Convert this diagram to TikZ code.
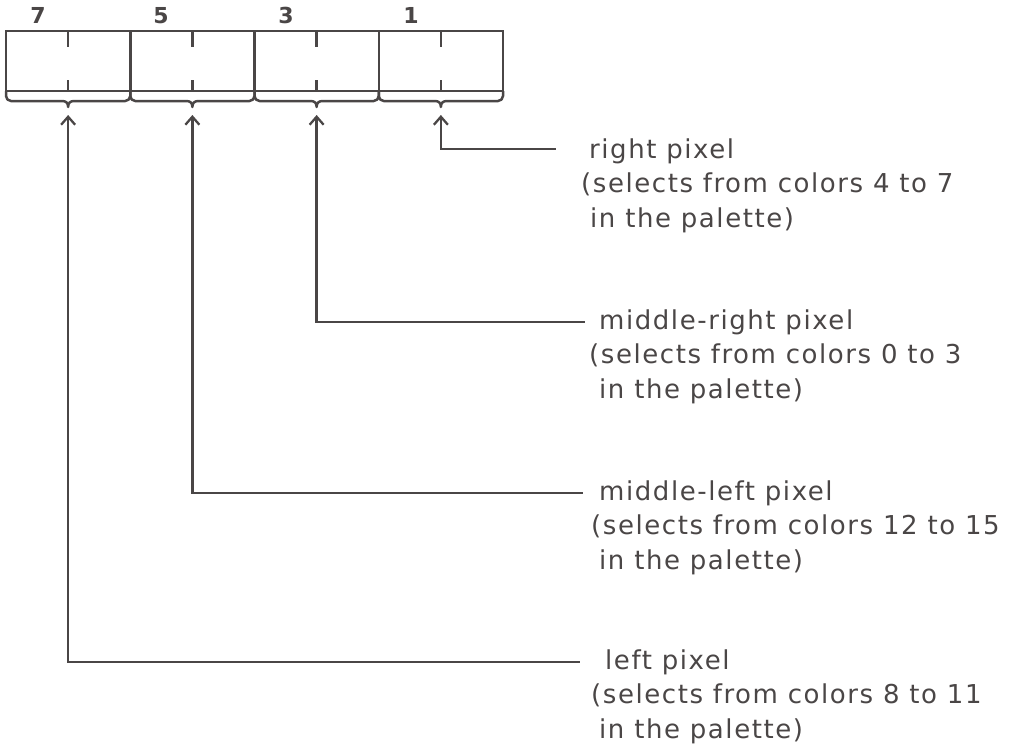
\documentclass[tikz,border=0pt]{standalone}
\usepackage{fontspec}
\setmainfont{DejaVu Sans}[LetterSpace=6]
\usetikzlibrary{arrows.meta}
\definecolor{ink}{HTML}{4A4646}
\begin{document}
\begin{tikzpicture}[x=1pt,y=-1pt,
  cell/.style={draw=ink,line width=2.5pt,minimum width=124.25pt,minimum height=60pt,inner sep=0pt,outer sep=0pt},
  tick/.style={draw=ink,line width=2.5pt},
  brace/.style={draw=ink,line width=2.5pt,line join=round},
  bitnum/.style={font=\fontsize{22}{22}\selectfont\bfseries,text=ink,anchor=base,inner sep=0pt},
  conn/.style={draw=ink,line width=2.5pt,{Straight Barb[length=8pt,width=14pt,line width=2.3pt]}-},
  lbl/.style={anchor=base west,inner sep=0pt,text=ink,font=\fontsize{26}{34.5}\selectfont}
]
\useasboundingbox (0,0) rectangle (1012,747);
% cells
\foreach \i/\n in {0/c1,1/c2,2/c3,3/c4}{
  \node[cell] (\n) at ({6+124.25*\i+62.125},61) {};
  \draw[tick] (\n.north) -- ++(0,16);
  \draw[tick] (\n.south) -- ++(0,-11);
  \draw[brace] (\n.south west) -- ++(0,5) to[out=-90,in=180] ++(5,5)
     -- ([xshift=-6pt,yshift=-10pt]\n.south)
     .. controls ([xshift=-2pt,yshift=-10pt]\n.south) and ([yshift=-12pt]\n.south) .. ([yshift=-16pt]\n.south)
     .. controls ([yshift=-12pt]\n.south) and ([xshift=2pt,yshift=-10pt]\n.south) .. ([xshift=6pt,yshift=-10pt]\n.south)
     -- ([xshift=-5pt,yshift=-10pt]\n.south east) to[out=0,in=-90] ([yshift=-5pt]\n.south east) -- (\n.south east);
}
% bit numbers
\node[bitnum] (b7) at (38,23) {7};
\node[bitnum] (b5) at (161,23) {5};
\node[bitnum] (b3) at (286,23) {3};
\node[bitnum] (b1) at (411,23) {1};
% arrow tips and connector ends
\coordinate (t1) at ([yshift=-24pt]c4.south);
\coordinate (t2) at ([yshift=-24pt]c3.south);
\coordinate (t3) at ([yshift=-24pt]c2.south);
\coordinate (t4) at ([yshift=-24pt]c1.south);
\coordinate (e1) at (556,149);
\coordinate (e2) at (585,322);
\coordinate (e3) at (583,493);
\coordinate (e4) at (580,662);
\draw[conn] (t1) |- (e1);
\draw[conn] (t2) |- (e2);
\draw[conn] (t3) |- (e3);
\draw[conn] (t4) |- (e4);
% labels
\node[lbl] (L1) at (581,158) {\begin{tabular}[t]{@{}l@{}}\hspace{8pt}right pixel\\(selects from colors 4 to 7\\\hspace{9pt}in the palette)\end{tabular}};
\node[lbl] (L2) at (589,329) {\begin{tabular}[t]{@{}l@{}}\hspace{10pt}middle-right pixel\\(selects from colors 0 to 3\\\hspace{10pt}in the palette)\end{tabular}};
\node[lbl] (L3) at (591,500) {\begin{tabular}[t]{@{}l@{}}\hspace{8pt}middle-left pixel\\(selects from colors 12 to 15\\\hspace{8pt}in the palette)\end{tabular}};
\node[lbl] (L4) at (591,669) {\begin{tabular}[t]{@{}l@{}}\hspace{14pt}left pixel\\(selects from colors 8 to 11\\\hspace{8pt}in the palette)\end{tabular}};
\end{tikzpicture}
\end{document}
